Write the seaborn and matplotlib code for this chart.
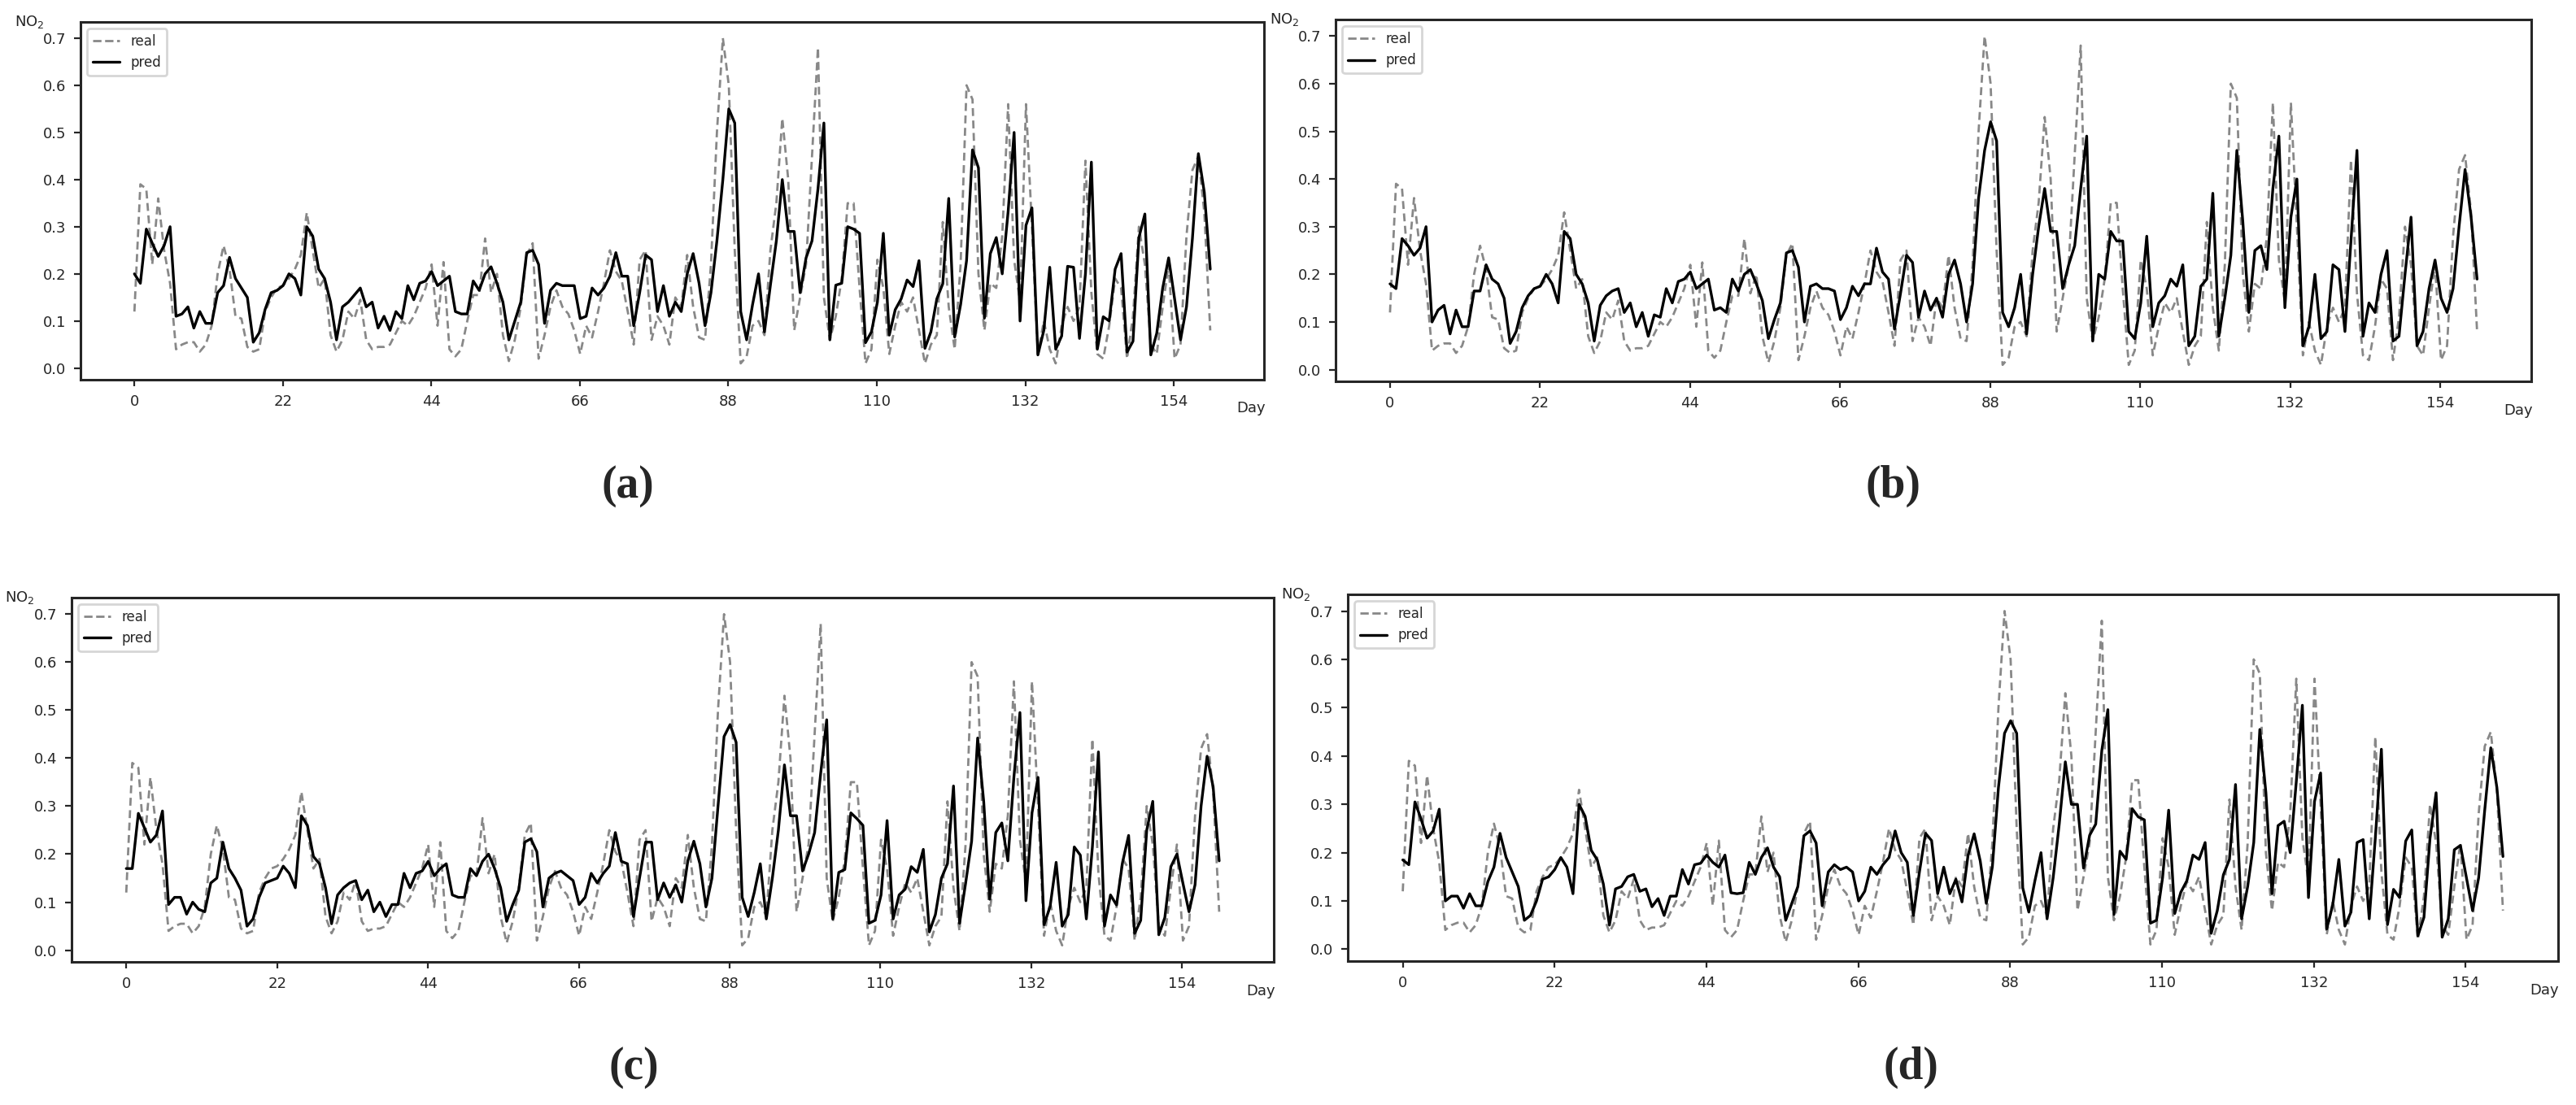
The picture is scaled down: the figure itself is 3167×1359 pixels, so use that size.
import numpy as np
import pandas as pd
import matplotlib
matplotlib.use("Agg")
import matplotlib.pyplot as plt
import seaborn as sns

# real NO2 (same in all four panels)
real = [0.12, 0.39, 0.38, 0.22, 0.36, 0.25, 0.18, 0.04, 0.05, 0.055,
        0.055, 0.035, 0.05, 0.09, 0.20, 0.26, 0.21, 0.11, 0.105, 0.045,
        0.035, 0.04, 0.12, 0.15, 0.17, 0.175, 0.19, 0.21, 0.24, 0.33,
        0.25, 0.17, 0.19, 0.07, 0.035, 0.06, 0.12, 0.105, 0.145, 0.06,
        0.04, 0.045, 0.045, 0.05, 0.075, 0.10, 0.09, 0.11, 0.14, 0.17,
        0.22, 0.09, 0.225, 0.04, 0.025, 0.04, 0.10, 0.155, 0.155, 0.275,
        0.16, 0.20, 0.07, 0.015, 0.06, 0.13, 0.24, 0.265, 0.02, 0.07,
        0.13, 0.165, 0.13, 0.115, 0.08, 0.03, 0.09, 0.065, 0.12, 0.18,
        0.25, 0.205, 0.185, 0.12, 0.05, 0.23, 0.25, 0.06, 0.11, 0.09,
        0.05, 0.15, 0.13, 0.24, 0.13, 0.065, 0.06, 0.22, 0.50, 0.70,
        0.60, 0.25, 0.01, 0.025, 0.09, 0.10, 0.07, 0.25, 0.35, 0.53,
        0.40, 0.08, 0.15, 0.22, 0.45, 0.68, 0.15, 0.06, 0.11, 0.19,
        0.35, 0.35, 0.17, 0.01, 0.04, 0.23, 0.17, 0.03, 0.09, 0.14,
        0.12, 0.15, 0.08, 0.01, 0.05, 0.07, 0.31, 0.13, 0.04, 0.22,
        0.60, 0.57, 0.20, 0.08, 0.18, 0.17, 0.28, 0.56, 0.23, 0.14,
        0.56, 0.30, 0.03, 0.10, 0.04, 0.01, 0.09, 0.13, 0.10, 0.13,
        0.44, 0.16, 0.03, 0.02, 0.09, 0.19, 0.17, 0.02, 0.11, 0.30,
        0.22, 0.05, 0.03, 0.13, 0.22, 0.02, 0.05, 0.28, 0.42, 0.45,
        0.33, 0.08]

pred_a = [0.20, 0.18, 0.295, 0.265, 0.237, 0.26, 0.30, 0.11, 0.115, 0.13,
          0.085, 0.12, 0.095, 0.095, 0.16, 0.175, 0.235, 0.19, 0.17, 0.15,
          0.055, 0.075, 0.125, 0.16, 0.165, 0.175, 0.20, 0.19, 0.155, 0.30,
          0.28, 0.21, 0.19, 0.14, 0.06, 0.13, 0.14, 0.155, 0.17, 0.13,
          0.14, 0.085, 0.11, 0.08, 0.12, 0.105, 0.175, 0.145, 0.18, 0.185,
          0.205, 0.175, 0.185, 0.195, 0.12, 0.115, 0.115, 0.185, 0.165, 0.20,
          0.215, 0.18, 0.14, 0.06, 0.10, 0.14, 0.245, 0.25, 0.22, 0.095,
          0.165, 0.18, 0.175, 0.175, 0.175, 0.105, 0.11, 0.17, 0.155, 0.17,
          0.195, 0.245, 0.195, 0.195, 0.09, 0.16, 0.24, 0.23, 0.12, 0.175,
          0.11, 0.14, 0.12, 0.20, 0.243, 0.18, 0.09, 0.16, 0.27, 0.40,
          0.55, 0.52, 0.12, 0.06, 0.135, 0.20, 0.077, 0.176, 0.27, 0.40,
          0.29, 0.29, 0.16, 0.234, 0.27, 0.38, 0.52, 0.06, 0.176, 0.18,
          0.30, 0.295, 0.286, 0.054, 0.077, 0.14, 0.286, 0.07, 0.124, 0.147,
          0.187, 0.173, 0.228, 0.042, 0.077, 0.147, 0.179, 0.36, 0.066, 0.135,
          0.228, 0.463, 0.425, 0.106, 0.243, 0.277, 0.20, 0.333, 0.50, 0.10,
          0.303, 0.34, 0.028, 0.08, 0.214, 0.04, 0.068, 0.216, 0.214, 0.063,
          0.20, 0.437, 0.04, 0.109, 0.10, 0.21, 0.243, 0.034, 0.057, 0.277,
          0.327, 0.028, 0.074, 0.17, 0.234, 0.147, 0.06, 0.13, 0.275, 0.455,
          0.373, 0.21]

pred_b = [0.18, 0.17, 0.275, 0.26, 0.24, 0.255, 0.30, 0.10, 0.125, 0.135,
          0.075, 0.125, 0.09, 0.09, 0.165, 0.165, 0.22, 0.19, 0.18, 0.15,
          0.055, 0.08, 0.13, 0.155, 0.17, 0.175, 0.20, 0.18, 0.14, 0.29,
          0.275, 0.20, 0.18, 0.14, 0.06, 0.135, 0.155, 0.165, 0.17, 0.12,
          0.14, 0.09, 0.12, 0.07, 0.115, 0.11, 0.17, 0.14, 0.185, 0.19,
          0.205, 0.17, 0.18, 0.19, 0.125, 0.13, 0.12, 0.19, 0.165, 0.20,
          0.21, 0.18, 0.145, 0.065, 0.105, 0.14, 0.245, 0.25, 0.215, 0.10,
          0.175, 0.18, 0.17, 0.17, 0.165, 0.105, 0.13, 0.175, 0.155, 0.18,
          0.18, 0.255, 0.205, 0.19, 0.085, 0.16, 0.24, 0.225, 0.11, 0.165,
          0.125, 0.15, 0.11, 0.20, 0.23, 0.18, 0.10, 0.18, 0.36, 0.46,
          0.52, 0.48, 0.12, 0.09, 0.13, 0.20, 0.075, 0.20, 0.30, 0.38,
          0.29, 0.29, 0.17, 0.22, 0.26, 0.38, 0.49, 0.06, 0.20, 0.19,
          0.29, 0.27, 0.27, 0.08, 0.065, 0.14, 0.28, 0.09, 0.14, 0.155,
          0.19, 0.175, 0.22, 0.05, 0.07, 0.175, 0.19, 0.37, 0.07, 0.15,
          0.24, 0.46, 0.31, 0.12, 0.25, 0.26, 0.21, 0.38, 0.49, 0.13,
          0.32, 0.40, 0.05, 0.09, 0.20, 0.065, 0.08, 0.22, 0.21, 0.08,
          0.27, 0.46, 0.07, 0.14, 0.12, 0.20, 0.25, 0.06, 0.07, 0.20,
          0.32, 0.05, 0.08, 0.17, 0.23, 0.15, 0.12, 0.17, 0.30, 0.42,
          0.32, 0.19]

pred_c = [0.17, 0.17, 0.285, 0.255, 0.225, 0.24, 0.29, 0.095, 0.11, 0.11,
          0.075, 0.10, 0.085, 0.08, 0.14, 0.15, 0.225, 0.17, 0.15, 0.125,
          0.05, 0.065, 0.11, 0.14, 0.145, 0.15, 0.175, 0.16, 0.13, 0.28,
          0.26, 0.195, 0.18, 0.13, 0.055, 0.115, 0.13, 0.14, 0.145, 0.105,
          0.125, 0.08, 0.10, 0.07, 0.095, 0.095, 0.16, 0.13, 0.16, 0.165,
          0.185, 0.155, 0.17, 0.18, 0.115, 0.11, 0.11, 0.17, 0.155, 0.185,
          0.20, 0.17, 0.13, 0.06, 0.095, 0.125, 0.225, 0.232, 0.205, 0.09,
          0.15, 0.16, 0.165, 0.155, 0.145, 0.095, 0.11, 0.16, 0.14, 0.16,
          0.175, 0.245, 0.185, 0.18, 0.07, 0.15, 0.225, 0.225, 0.105, 0.14,
          0.11, 0.136, 0.10, 0.186, 0.227, 0.18, 0.09, 0.15, 0.30, 0.445,
          0.47, 0.433, 0.11, 0.07, 0.12, 0.18, 0.065, 0.15, 0.25, 0.386,
          0.28, 0.28, 0.165, 0.20, 0.245, 0.368, 0.48, 0.065, 0.162, 0.168,
          0.286, 0.274, 0.26, 0.056, 0.062, 0.115, 0.27, 0.065, 0.115, 0.127,
          0.174, 0.162, 0.21, 0.038, 0.074, 0.15, 0.18, 0.342, 0.056, 0.139,
          0.227, 0.442, 0.31, 0.106, 0.245, 0.265, 0.186, 0.36, 0.495, 0.103,
          0.286, 0.36, 0.053, 0.091, 0.183, 0.05, 0.074, 0.215, 0.198, 0.065,
          0.215, 0.413, 0.05, 0.115, 0.094, 0.183, 0.239, 0.035, 0.062, 0.25,
          0.31, 0.032, 0.068, 0.174, 0.20, 0.139, 0.08, 0.136, 0.30, 0.404,
          0.34, 0.186]

pred_d = [0.185, 0.175, 0.305, 0.27, 0.23, 0.245, 0.29, 0.10, 0.11, 0.11,
          0.085, 0.115, 0.09, 0.09, 0.14, 0.17, 0.24, 0.19, 0.16, 0.13,
          0.06, 0.07, 0.10, 0.145, 0.15, 0.165, 0.19, 0.17, 0.115, 0.30,
          0.275, 0.205, 0.185, 0.135, 0.05, 0.125, 0.13, 0.15, 0.155, 0.12,
          0.125, 0.088, 0.105, 0.07, 0.11, 0.11, 0.165, 0.135, 0.175, 0.178,
          0.195, 0.18, 0.17, 0.195, 0.117, 0.115, 0.117, 0.18, 0.155, 0.19,
          0.21, 0.17, 0.15, 0.06, 0.095, 0.13, 0.235, 0.245, 0.22, 0.09,
          0.16, 0.175, 0.165, 0.17, 0.16, 0.10, 0.12, 0.17, 0.155, 0.175,
          0.19, 0.245, 0.20, 0.18, 0.07, 0.16, 0.24, 0.225, 0.115, 0.17,
          0.115, 0.145, 0.098, 0.195, 0.239, 0.183, 0.095, 0.171, 0.335, 0.447,
          0.473, 0.447, 0.127, 0.077, 0.142, 0.20, 0.063, 0.148, 0.259, 0.388,
          0.30, 0.30, 0.168, 0.236, 0.259, 0.411, 0.496, 0.072, 0.203, 0.186,
          0.291, 0.274, 0.268, 0.054, 0.06, 0.148, 0.288, 0.074, 0.118, 0.142,
          0.195, 0.186, 0.221, 0.033, 0.08, 0.154, 0.186, 0.341, 0.063, 0.13,
          0.221, 0.455, 0.324, 0.115, 0.256, 0.265, 0.20, 0.347, 0.505, 0.107,
          0.306, 0.365, 0.042, 0.092, 0.186, 0.048, 0.077, 0.221, 0.227, 0.063,
          0.23, 0.414, 0.051, 0.124, 0.107, 0.224, 0.247, 0.028, 0.066, 0.23,
          0.324, 0.025, 0.063, 0.206, 0.215, 0.148, 0.08, 0.148, 0.288, 0.417,
          0.335, 0.192]

last_day = 159.4
day_ticks = [0, 22, 44, 66, 88, 110, 132, 154]
value_ticks = [0.0, 0.1, 0.2, 0.3, 0.4, 0.5, 0.6, 0.7]
panel_labels = ["(a)", "(b)", "(c)", "(d)"]

sns.set_style("ticks")
plt.rcParams["font.family"] = ["Liberation Sans Narrow", "DejaVu Sans"]

fig = plt.figure(figsize=(15.835, 6.795), dpi=200)

axes_rects = [[0.0313, 0.6564, 0.4594, 0.3238],
              [0.5185, 0.6549, 0.4642, 0.3274],
              [0.0278, 0.1295, 0.4667, 0.3297],
              [0.5232, 0.1302, 0.4698, 0.3319]]
caption_pos = [(0.2437, 0.56), (0.735, 0.56), (0.246, 0.034), (0.742, 0.034)]

for i, pred in enumerate([pred_a, pred_b, pred_c, pred_d]):
    ax = fig.add_axes(axes_rects[i])
    df = pd.DataFrame({
        "day": np.concatenate([np.linspace(0, last_day, len(real)),
                               np.linspace(0, last_day, len(pred))]),
        "value": real + pred,
        "series": ["real"] * len(real) + ["pred"] * len(pred),
    })
    sns.lineplot(data=df, x="day", y="value", hue="series", style="series",
                 palette={"real": "#888888", "pred": "#000000"},
                 dashes={"real": (3.5, 2), "pred": ""},
                 size="series", sizes={"real": 1.0, "pred": 1.2},
                 ax=ax, legend=False)
    ax.set_xticks(day_ticks)
    ax.set_yticks(value_ticks)
    ax.set_yticklabels([f"{v:.1f}" for v in value_ticks])
    ax.tick_params(labelsize=6.5, width=0.8, length=3)
    ax.set_xlabel("")
    ax.set_ylabel("")
    for s in ax.spines.values():
        s.set_visible(True)
        s.set_linewidth(1.1)
    ax.text(-0.043, 1.0, "NO$_2$", transform=ax.transAxes, fontsize=6.5,
            ha="center", va="center")
    ax.text(0.989, -0.08, "Day", transform=ax.transAxes, fontsize=6.5,
            ha="center", va="center")
    ax.plot([], [], color="#888888", ls="--", lw=1.0, label="real")
    ax.plot([], [], color="#000000", lw=1.2, label="pred")
    ax.legend(loc="upper left", fontsize=6, frameon=True, handlelength=2,
              borderpad=0.4, labelspacing=0.5)
    fig.text(caption_pos[i][0], caption_pos[i][1], panel_labels[i],
             family="Liberation Serif", weight="bold", fontsize=20,
             ha="center", va="center")

fig.savefig("out.png", dpi=200)
